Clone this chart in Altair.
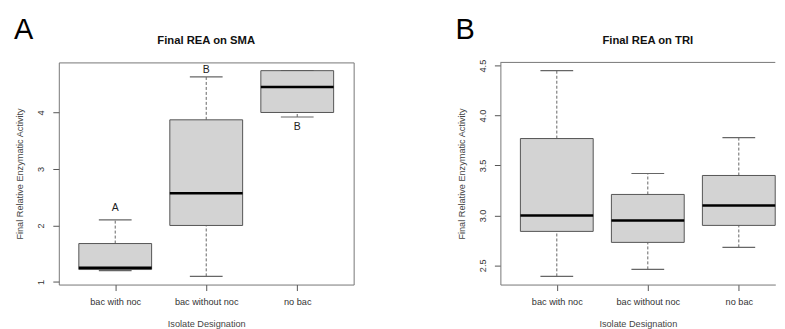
import altair as alt
import pandas as pd

categories = ["bac with noc", "bac without noc", "no bac"]
positions = [1, 2, 3]

# Panel A: Final REA on SMA (box-plot statistics)
sma_lower = [1.20, 1.10, 3.92]
sma_q1 = [1.22, 2.00, 4.00]
sma_median = [1.25, 2.57, 4.45]
sma_q3 = [1.68, 3.87, 4.74]
sma_upper = [2.10, 4.63, 4.74]
sma_letters = ["A", "B", "B"]
sma_letter_y = [2.30, 4.75, 3.75]

# Panel B: Final REA on TRI
tri_lower = [2.39, 2.46, 2.68]
tri_q1 = [2.84, 2.73, 2.90]
tri_median = [3.00, 2.95, 3.10]
tri_q3 = [3.77, 3.21, 3.40]
tri_upper = [4.45, 3.42, 3.78]

FONT = "Liberation Sans"
LABEL_EXPR = "['', 'bac with noc', 'bac without noc', 'no bac'][datum.value]"
H = 223
W_FULL = 296
PX_PER_UNIT = W_FULL / 3.24
FRAME = "#777"


def panel(lower, q1, med, q3, upper, title, letter, ydomain, yticks, yfmt,
          width, notes=None, note_y=None, open_right=False):
    df = pd.DataFrame({
        "idx": positions, "cat": categories, "lower": lower, "q1": q1,
        "med": med, "q3": q3, "upper": upper,
    })
    df["bx1"] = df["idx"] - 0.4
    df["bx2"] = df["idx"] + 0.4
    df["sx1"] = df["idx"] - 0.18
    df["sx2"] = df["idx"] + 0.18

    xmax = 0.38 + width / PX_PER_UNIT
    xscale = alt.Scale(domain=[0.38, xmax], nice=False, zero=False)
    yscale = alt.Scale(domain=ydomain, nice=False, zero=False)
    xaxis = alt.Axis(values=positions, labelExpr=LABEL_EXPR,
                     title="Isolate Designation", grid=False,
                     domain=open_right, domainColor=FRAME, domainWidth=1,
                     ticks=True, tickSize=6, tickColor="#555",
                     labelFont=FONT, labelFontSize=9.2, labelColor="#333",
                     labelPadding=7, titleFont=FONT, titleFontSize=9.2,
                     titleFontWeight="normal", titleColor="#444",
                     titlePadding=13)
    yaxis = alt.Axis(values=yticks, format=yfmt, labelAngle=270,
                     labelAlign="center", labelBaseline="bottom",
                     title="Final Relative Enzymatic Activity", grid=False,
                     domain=open_right, domainColor=FRAME, domainWidth=1,
                     ticks=True, tickSize=6, tickColor="#555",
                     labelFont=FONT, labelFontSize=9.2, labelColor="#333",
                     labelPadding=7, titleFont=FONT, titleFontSize=9.2,
                     titleFontWeight="normal", titleColor="#444",
                     titlePadding=12)

    base = alt.Chart(df)
    whisk_hi = base.mark_rule(color="#666", strokeDash=[3, 2], strokeWidth=1).encode(
        x=alt.X("idx:Q", scale=xscale, axis=xaxis),
        y=alt.Y("q3:Q", scale=yscale, axis=yaxis),
        y2="upper:Q",
    )
    whisk_lo = base.mark_rule(color="#666", strokeDash=[3, 2], strokeWidth=1).encode(
        x="idx:Q", y="lower:Q", y2="q1:Q")
    staple_hi = base.mark_rule(color="#666", strokeWidth=1.2).encode(
        x="sx1:Q", x2="sx2:Q", y="upper:Q")
    staple_lo = base.mark_rule(color="#666", strokeWidth=1.2).encode(
        x="sx1:Q", x2="sx2:Q", y="lower:Q")
    box = base.mark_rect(fill="#d3d3d3", stroke="#555", strokeWidth=1).encode(
        x="bx1:Q", x2="bx2:Q", y="q1:Q", y2="q3:Q")
    median = base.mark_rule(color="black", strokeWidth=2.5).encode(
        x="bx1:Q", x2="bx2:Q", y="med:Q")
    layers = [whisk_hi, whisk_lo, staple_hi, staple_lo, box, median]

    if notes is not None:
        ndf = pd.DataFrame({"idx": positions, "label": notes, "ny": note_y})
        layers.append(alt.Chart(ndf).mark_text(
            font=FONT, fontSize=10.5, color="#222", baseline="middle").encode(
            x="idx:Q", y="ny:Q", text="label:N"))

    # panel letter and panel title as annotation texts above the plot
    pdf = pd.DataFrame({"t": [letter], "title": [title]})
    layers.append(alt.Chart(pdf).mark_text(
        font=FONT, fontSize=29, color="black", align="left",
        baseline="alphabetic").encode(
        text="t:N", x=alt.value(-45), y=alt.value(-24)))
    layers.append(alt.Chart(pdf).mark_text(
        font=FONT, fontSize=11.3, fontWeight="bold", color="#111",
        align="center", baseline="alphabetic").encode(
        text="title:N", x=alt.value(W_FULL / 2), y=alt.value(-18)))

    if open_right:
        # top edge of the plot box (its right edge lies outside the picture)
        layers.append(alt.Chart(pdf).mark_rule(color=FRAME, strokeWidth=1).encode(
            x=alt.value(0), x2=alt.value(width), y=alt.value(0)))
        return alt.layer(*layers).properties(
            width=width, height=H,
            view=alt.ViewBackground(stroke="transparent"))
    return alt.layer(*layers).properties(width=width, height=H)


chart_a = panel(sma_lower, sma_q1, sma_median, sma_q3, sma_upper,
                "Final REA on SMA", "A", [0.954, 4.886], [1, 2, 3, 4], "d",
                W_FULL, notes=sma_letters, note_y=sma_letter_y)
chart_b = panel(tri_lower, tri_q1, tri_median, tri_q3, tri_upper,
                "Final REA on TRI", "B", [2.3076, 4.5324],
                [2.5, 3.0, 3.5, 4.0, 4.5], ".1f", 276, open_right=True)

chart = alt.hconcat(chart_a, chart_b, spacing=147.3, bounds="flush").properties(
    padding={"left": 5, "top": 6, "right": 0, "bottom": 0},
    background="white",
).configure_view(stroke=FRAME, strokeWidth=1)

chart.save("out.html", embed_options={"renderer": "svg", "actions": False})
